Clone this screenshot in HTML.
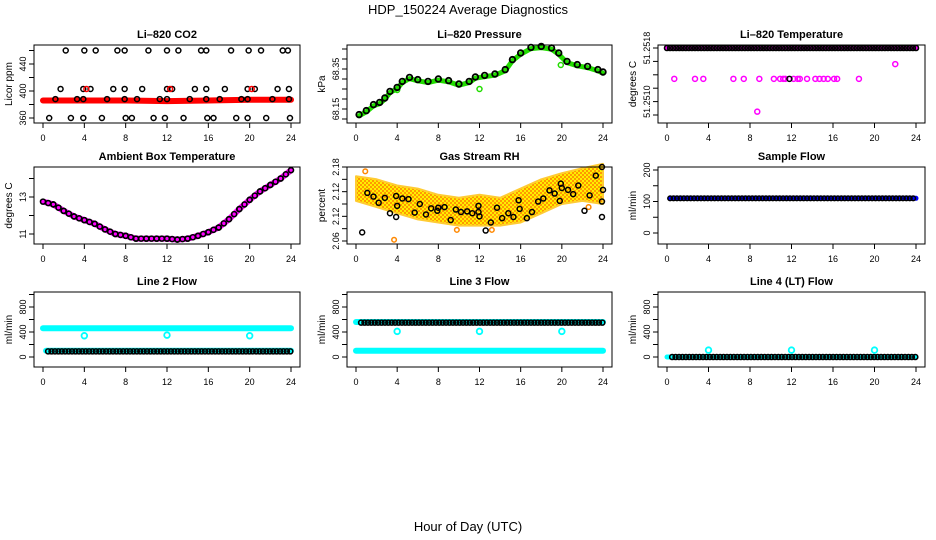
<!DOCTYPE html>
<html><head><meta charset="utf-8"><style>
html,body{margin:0;padding:0;background:#fff;}
svg{display:block;font-family:"Liberation Sans",sans-serif;}
</style></head><body>
<svg id="c" width="936" height="540" viewBox="0 0 936 540" xmlns="http://www.w3.org/2000/svg">
<defs>
<pattern id="rhpat" width="4" height="4" patternUnits="userSpaceOnUse">
<rect width="4" height="4" fill="#ffee00"/>
<rect width="2" height="2" fill="#ff9900"/><rect x="2" y="2" width="2" height="2" fill="#ff9900"/>
</pattern>
</defs>
<text x="468" y="14" text-anchor="middle" font-size="13">HDP_150224  Average Diagnostics</text>
<text x="468" y="531" text-anchor="middle" font-size="13">Hour of Day (UTC)</text>
</svg>
<script>
// ---- data ----
const xTicks=[0,4,8,12,16,20,24];
const co2TopH=[2.2,4.0,5.1,7.2,7.9,10.2,12.0,13.1,15.3,15.8,18.2,19.9,21.1,23.2,23.7];
const co2TopV=[460,460,460,460,460,460,460,460,460,460,460,460,460,460,460];
const co2MidH=[1.7,3.9,4.6,6.8,7.9,9.6,12.0,12.5,14.7,15.8,17.6,19.8,20.5,22.7,23.8];
const co2MidV=[403,403,403,403,403,403,403,403,403,403,403,403,403,403,403];
const co2RedPtsH=[4.2,12.3,20.2];
const co2RedPtsV=[403,403,403];
const co2LowH=[1.2,3.3,3.9,6.2,7.9,9.1,11.3,12.0,14.2,15.8,17.1,19.2,19.8,22.2,23.8];
const co2LowV=[388,388,388,388,388,388,388,388,388,388,388,388,388,388,388];
const co2BotH=[0.6,2.7,3.9,5.7,8.0,8.6,10.7,11.8,13.6,15.9,16.5,18.7,19.8,21.6,23.9];
const co2BotV=[360,360,360,360,360,360,360,360,360,360,360,360,360,360,360];
const co2RedH=[0,4,8,12,16,20,24];
const co2RedV=[386,386,386,385,386,387,387];
const presH=[0.3,1,1.7,2.3,2.8,3.3,4,4.5,5.2,6,7,8,9,10,11,11.6,12.5,13.5,14.5,15.2,16,17,18,19,19.7,20.5,21.5,22.5,23.5,24];
const presV=[68.122,68.142,68.172,68.183,68.205,68.238,68.258,68.288,68.308,68.297,68.288,68.30,68.292,68.275,68.288,68.31,68.318,68.325,68.347,68.397,68.43,68.458,68.463,68.455,68.43,68.388,68.372,68.363,68.347,68.335];
const presGreenOutH=[4,12,19.9];
const presGreenOutV=[68.245,68.25,68.37];
const tempTopH=[0,24];
const tempTopV=[51.2518,51.2518];
const tempMidH=[0.7,2.7,3.5,6.4,7.4,8.9,10.3,10.9,11.2,11.4,12.2,12.6,12.8,13.5,14.3,14.7,15.1,15.5,16.1,16.4,18.5,22.0];
const tempMidV=[51.25134,51.25134,51.25134,51.25134,51.25134,51.25134,51.25134,51.25134,51.25134,51.25134,51.25134,51.25134,51.25134,51.25134,51.25134,51.25134,51.25134,51.25134,51.25134,51.25134,51.25134,51.25156];
const tempBlackMidH=[11.8];
const tempBlackMidV=[51.25134];
const tempLowH=[8.7];
const tempLowV=[51.25085];
const ambH=[0,1,2,3,4,5,6,7,8,9,10,11,12,13,14,15,16,17,18,19,20,21,22,23,24];
const ambV=[12.75,12.6,12.25,11.95,11.75,11.55,11.25,11.0,10.9,10.75,10.75,10.75,10.75,10.7,10.75,10.9,11.1,11.35,11.8,12.35,12.85,13.3,13.65,14.0,14.45];
const rhBandH=[0,2,4,6,8,10,12,14,16,18,20,22,24];
const rhUpper=[2.165,2.16,2.15,2.145,2.135,2.13,2.135,2.13,2.145,2.16,2.17,2.178,2.185];
const rhLower=[2.125,2.115,2.105,2.095,2.09,2.085,2.085,2.085,2.09,2.105,2.12,2.125,2.12];
const rhOutH=[0.9,3.7,9.8,13.2,22.6];
const rhOutV=[2.173,2.062,2.078,2.078,2.115];
const rhH=[0.6,1.1,1.7,2.2,2.8,3.3,3.9,3.9,4.0,4.5,5.1,5.7,6.2,6.8,7.3,7.9,8,8.6,9.2,9.7,10.2,10.8,11.3,11.9,11.9,12,12.6,13.1,13.7,14.2,14.8,15.3,15.8,15.9,16.6,17.1,17.7,18.2,18.8,19.3,19.8,19.9,20,20.6,21.1,21.6,22.2,22.7,23.3,23.9,24,23.9,23.9];
const rhV=[2.074,2.138,2.132,2.122,2.130,2.105,2.099,2.133,2.117,2.129,2.128,2.106,2.120,2.103,2.113,2.109,2.114,2.115,2.094,2.111,2.107,2.108,2.105,2.107,2.117,2.100,2.077,2.090,2.114,2.097,2.105,2.099,2.126,2.112,2.097,2.107,2.124,2.129,2.142,2.137,2.125,2.153,2.146,2.143,2.136,2.150,2.109,2.134,2.166,2.180,2.143,2.124,2.099];
const sampleH=[0.3,24];
const sampleV=[110,110];
const l2HighH=[0,24];
const l2HighV=[460,460];
const l2LowH=[0.3,24];
const l2LowV=[100,100];
const l2OutH=[4,12,20];
const l2OutV=[340,350,340];
const l3HighH=[0,24];
const l3HighV=[560,560];
const l3LowH=[0,24];
const l3LowV=[100,100];
const l3OutH=[4,12,20];
const l3OutV=[410,410,410];
const l4H=[0,24];
const l4V=[0,0];
const l4OutH=[4,12,20];
const l4OutV=[110,110,110];

// ---- layout ----
const NS="http://www.w3.org/2000/svg";
const svg=document.getElementById('c');
const colL=[34,347,658], colR=[300,612,925];
const rowT=[45,167,292], rowB=[123,244,367];
function mk(tag,attrs,parent){const e=document.createElementNS(NS,tag);for(const k in attrs)e.setAttribute(k,attrs[k]);(parent||svg).appendChild(e);return e;}

function panel(name,title,col,row,ylab,dom,pix,yticks,ylabels){
  const L=colL[col],R=colR[col],T=rowT[row],B=rowB[row];
  const g=mk('g',{});
  
  
  const xs=h=>L+9+h*(R-L-18)/24;
  const ys=v=>pix[0]+(v-dom[0])*(pix[1]-pix[0])/(dom[1]-dom[0]);
  const t=mk('text',{x:(L+R)/2,y:T-7,'text-anchor':'middle','font-size':11,'font-weight':'bold'},g);
  t.textContent=title;
  
  
  const yl=mk('text',{x:0,y:0,'text-anchor':'middle','font-size':10,transform:`translate(${L-22},${(T+B)/2}) rotate(-90)`},g);
  yl.textContent=ylab;
  
  
  const xa=mk('g',{},g);
  
  
  mk('line',{x1:xs(0),x2:xs(24),y1:B,y2:B,stroke:'#000'},xa);
  xTicks.forEach(h=>{
    mk('line',{x1:xs(h),x2:xs(h),y1:B,y2:B+5,stroke:'#000'},xa);
    const tl=mk('text',{x:xs(h),y:B+18,'text-anchor':'middle','font-size':9},xa);
    tl.textContent=h;
  });
  const ya=mk('g',{},g);
  
  
  mk('line',{x1:L,x2:L,y1:ys(yticks[0]),y2:ys(yticks[yticks.length-1]),stroke:'#000'},ya);
  yticks.forEach((v,i)=>{
    mk('line',{x1:L-5,x2:L,y1:ys(v),y2:ys(v),stroke:'#000'},ya);
    if(ylabels[i]){
      const tl=mk('text',{x:0,y:0,'text-anchor':'middle','font-size':9,transform:`translate(${L-8},${ys(v)}) rotate(-90)`},ya);
      tl.textContent=ylabels[i];
    }
  });
  const plot=mk('g',{},g);
  const box=mk('rect',{x:L,y:T,width:R-L,height:B-T,fill:'none',stroke:'#000'},g);
  
  
  return {xs,ys,g:plot,name};
}
function pts(p,H,V,color,r,sw,label){
  const g=mk('g',{},p.g);
  
  
  H.forEach((h,i)=>{
    const c=mk('circle',{cx:p.xs(h),cy:p.ys(V[i]),r:r,fill:'none',stroke:color,'stroke-width':sw},g);
    
    
  });
}
function line(p,H,V,color,w,label){
  const d=H.map((h,i)=>(i?'L':'M')+p.xs(h).toFixed(1)+','+p.ys(V[i]).toFixed(1)).join('');
  const e=mk('path',{d:d,fill:'none',stroke:color,'stroke-width':w,'stroke-linejoin':'round','stroke-linecap':'round'},p.g);
  
  
}
function dense(p,H,V,color,r,sw,label,step){
  const g=mk('g',{},p.g);
  
  
  for(let i=0;i<H.length-1;i++){
    for(let h=H[i];h<=H[i+1]+1e-6;h+=step){
      const f=(h-H[i])/(H[i+1]-H[i]);
      const v=V[i]+f*(V[i+1]-V[i]);
      const c=mk('circle',{cx:p.xs(h),cy:p.ys(v),r:r,fill:'none',stroke:color,'stroke-width':sw},g);
      
      
    }
  }
}

// CO2
let p=panel('co2','Li\u2013820 CO2',0,0,'Licor ppm',[360,400],[118,91],[360,380,400,420,440,460],['360','','400','','440','']);
line(p,co2RedH,co2RedV,'#ff0000',6,'red-band');
pts(p,co2TopH,co2TopV,'#000',2.5,1.5,'black-460');
pts(p,co2MidH,co2MidV,'#000',2.5,1.5,'black-403');
pts(p,co2RedPtsH,co2RedPtsV,'#ff0000',2.5,1.5,'red-403');
pts(p,co2LowH,co2LowV,'#000',2.5,1.5,'black-388');
pts(p,co2BotH,co2BotV,'#000',2.5,1.5,'black-360');

// Pressure
p=panel('pressure','Li\u2013820 Pressure',1,0,'kPa',[68.15,68.35],[109,69],[68.10,68.15,68.20,68.25,68.30,68.35,68.40,68.45],['','68.15','','','','68.35','','']);
line(p,presH,presV.map(v=>v-0.006),'#22dd00',5,'green-series');
pts(p,presGreenOutH,presGreenOutV,'#22dd00',2.5,1.5,'green-outliers');
pts(p,presH,presV,'#000',2.8,1.8,'black-series');

// Temperature
p=panel('temperature','Li\u2013820 Temperature',2,0,'degrees C',[51.2518,51.2508],[48,115],[51.2518,51.2516,51.2514,51.2512,51.2510,51.2508],['51.2518','','','','51.2510','']);
line(p,tempTopH,tempTopV,'#ff00ff',5,'magenta-band');
dense(p,tempTopH,tempTopV,'#000',2.5,1.6,'black-top',0.3);
pts(p,tempMidH,tempMidV,'#ff00ff',2.5,1.5,'magenta-mid');
pts(p,tempBlackMidH,tempBlackMidV,'#000',2.5,1.5,'black-mid');
pts(p,tempLowH,tempLowV,'#ff00ff',2.5,1.5,'magenta-low');

// Ambient
p=panel('ambient','Ambient Box Temperature',0,1,'degrees C',[11,13],[234,197],[11,12,13,14],['11','','13','']);
line(p,ambH,ambV,'#ff00ff',6,'magenta-series');
dense(p,ambH,ambV,'#000',2.5,1.6,'black-series',0.5);

// RH
p=panel('rh','Gas Stream RH',1,1,'percent',[2.06,2.18],[241,167],[2.06,2.08,2.10,2.12,2.14,2.16,2.18],['2.06','','2.12','','2.12','','2.18']);
{
  const d=rhBandH.map((h,i)=>(i?'L':'M')+p.xs(h).toFixed(1)+','+p.ys(rhUpper[i]).toFixed(1)).join('')+
    rhBandH.slice().reverse().map((h,j)=>{const i=rhBandH.length-1-j;return 'L'+p.xs(h).toFixed(1)+','+p.ys(rhLower[i]).toFixed(1);}).join('')+'Z';
  const e=mk('path',{d:d,fill:'url(#rhpat)',stroke:'#ffcc33','stroke-width':2,'stroke-linejoin':'round'},p.g);
  
  
}
pts(p,rhOutH,rhOutV,'#ff8800',2.3,1.5,'orange-outliers');
pts(p,rhH,rhV,'#000',2.5,1.5,'black-series');

// Sample flow
p=panel('sample-flow','Sample Flow',2,1,'ml/min',[0,200],[233,170],[0,50,100,150,200],['0','','100','','200']);
line(p,sampleH,sampleV,'#0000ff',5,'blue-band');
dense(p,sampleH,sampleV,'#000',2.3,1.5,'black-series',0.33);

// Line 2
p=panel('line2-flow','Line 2 Flow',0,2,'ml/min',[0,800],[357,307],[0,200,400,600,800,1000],['0','','400','','800','']);
line(p,l2HighH,l2HighV,'#00ffff',6,'cyan-high');
line(p,l2LowH,l2LowV,'#00ffff',6,'cyan-low');
dense(p,[0.5,24],l2LowV.map(v=>v-10),'#000',2.5,1.6,'black-series',0.33);
pts(p,l2OutH,l2OutV,'#00ffff',2.8,1.8,'cyan-outliers');

// Line 3
p=panel('line3-flow','Line 3 Flow',1,2,'ml/min',[0,800],[357,307],[0,200,400,600,800,1000],['0','','400','','800','']);
line(p,l3LowH,l3LowV,'#00ffff',6,'cyan-low');
line(p,l3HighH,l3HighV,'#00ffff',6,'cyan-high');
dense(p,[0.5,24],l3HighV.map(v=>v-10),'#000',2.5,1.6,'black-series',0.33);
pts(p,l3OutH,l3OutV,'#00ffff',2.8,1.8,'cyan-outliers');

// Line 4
p=panel('line4-flow','Line 4 (LT) Flow',2,2,'ml/min',[0,800],[357,307],[0,200,400,600,800,1000],['0','','400','','800','']);
line(p,l4H,l4V,'#00ffff',5,'cyan-band');
dense(p,[0.5,24],l4V,'#000',2.5,1.6,'black-series',0.33);
pts(p,l4OutH,l4OutV,'#00ffff',2.8,1.8,'cyan-outliers');
</script>
</body></html>
